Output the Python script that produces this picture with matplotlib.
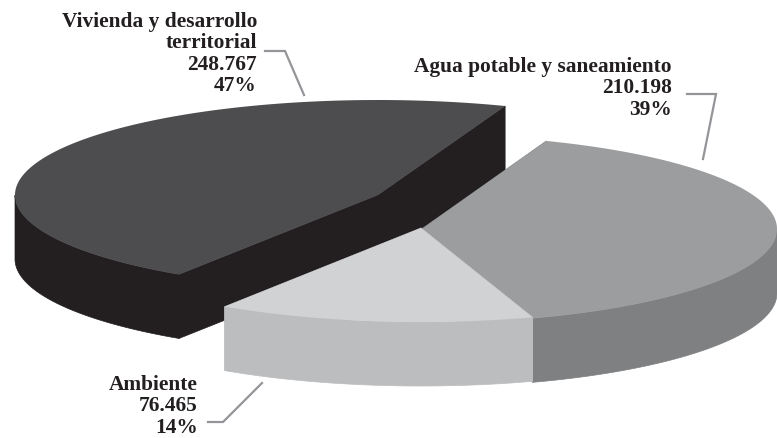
"""Exploded 3D-style pie of the three sector totals, drawn as flat polygons."""
import numpy as np
import matplotlib
matplotlib.use("Agg")
import matplotlib.pyplot as plt
from matplotlib.patches import Polygon

NAMES = ["Vivienda y desarrollo\nterritorial", "Ambiente", "Agua potable y saneamiento"]
VALUES = [248767, 76465, 210198]
PERCENTS = ["47%", "14%", "39%"]

# slices run counter-clockwise from this angle, in the order of VALUES
START_ANGLE = 69.5
DEPTH = 64.0
CENTERS = [(378.0, 196.0), (421.0, 229.0), (422.0, 230.0)]
RADII_X = [363.0, 358.0, 355.0]
RADII_Y = [95.0, 94.0, 94.0]
TOP_COLORS = ["#4d4d4f", "#d1d2d4", "#9c9d9f"]
SIDE_COLORS = ["#231f20", "#bcbdbf", "#7f8082"]
DRAW_ORDER = [0, 2, 1]

LABEL_POS = [(257, 12), (198, 375), (672, 57)]
LEADERS = [
    [(265, 52), (285, 52), (304, 96)],
    [(262, 384), (223, 423), (208, 423)],
    [(687, 95), (716, 95), (703, 160)],
]
LEADER_COLOR = "#939598"
TEXT_COLOR = "#231f20"


def rim(center, rx, ry, t):
    return np.column_stack([center[0] + rx * np.cos(t), center[1] - ry * np.sin(t)])


def draw_slice(ax, center, rx, ry, a0, a1, top, side):
    t = np.radians(np.linspace(a0, a1, 600))
    arc = rim(center, rx, ry, t)
    c = np.array(center, dtype=float)
    c_low = c + [0, DEPTH]
    # cut faces first, then outer wall (front half only), then the top surface
    # thin edge on the side patches hides the seam between them
    side_kw = dict(fc=side, ec=side, lw=0.5)
    ax.add_patch(Polygon([c, arc[0], arc[0] + [0, DEPTH], c_low], **side_kw))
    ax.add_patch(Polygon([c, arc[-1], arc[-1] + [0, DEPTH], c_low], **side_kw))
    front = arc[np.sin(t) <= 0]
    ax.add_patch(Polygon(np.vstack([front, front[::-1] + [0, DEPTH]]), **side_kw))
    ax.add_patch(Polygon(np.vstack([c, arc]), fc=top, ec="none"))


fig = plt.figure(figsize=(7.77, 4.39), dpi=100)
ax = fig.add_axes([0, 0, 1, 1])
ax.set_xlim(0, 777)
ax.set_ylim(439, 0)
ax.axis("off")

sweeps = 360.0 * np.array(VALUES) / sum(VALUES)
starts = START_ANGLE + np.concatenate([[0], np.cumsum(sweeps)[:-1]])
for i in DRAW_ORDER:
    draw_slice(ax, CENTERS[i], RADII_X[i], RADII_Y[i], starts[i], starts[i] + sweeps[i],
               TOP_COLORS[i], SIDE_COLORS[i])

for name, val, pct, pos, leader in zip(NAMES, VALUES, PERCENTS, LABEL_POS, LEADERS):
    xs, ys = zip(*leader)
    ax.plot(xs, ys, color=LEADER_COLOR, lw=1.6, solid_joinstyle="miter")
    label = f"{name}\n{val:,}\n{pct}".replace(",", ".")
    ax.text(pos[0], pos[1], label, ha="right", va="top", family="Liberation Serif",
            fontweight="bold", fontsize=15.4, color=TEXT_COLOR, linespacing=1.09)

fig.savefig("out.png", dpi=100)
